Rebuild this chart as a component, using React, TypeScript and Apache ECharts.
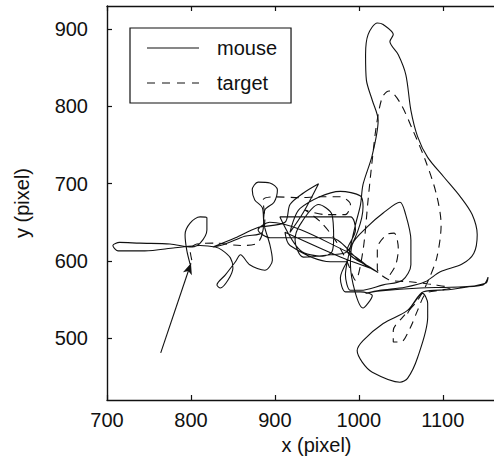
import React, { useEffect, useRef } from "react";
import * as echarts from "echarts";

const xTicks = [700, 800, 900, 1000, 1100];
const yTicks = [500, 600, 700, 800, 900];
const seriesNames = ["mouse", "target"];

const mouseX = [
  799, 795, 793, 799, 811, 819, 819, 811, 801, 775, 739, 715, 707, 713, 745, 781, 811, 829, 837, 847,
  850, 844, 835, 831, 841, 853, 859, 870, 888, 897, 894, 887, 885, 876, 873, 880, 894, 903, 899, 888,
  885, 864, 841, 826, 853, 879, 912, 918, 934, 952, 934, 918, 930, 978, 1002, 1005, 986, 966, 934, 924,
  930, 952, 968, 970, 968, 957, 930, 906, 990, 996, 986, 1016, 1023, 1002, 966, 894, 880, 894, 986, 1013,
  978, 912, 918, 966, 986, 978, 984, 1002, 1016, 1005, 990,
  992, 1010, 1029, 1049, 1055, 1062, 1062, 1052, 1029, 1002, 990, 984, 988, 996, 1002, 1005, 1016, 1023, 1016,
  1009, 1008, 1011, 1022, 1029, 1041, 1037, 1047, 1056, 1062, 1070, 1082, 1101, 1121, 1135, 1141, 1137, 1123, 1097, 1079,
  1055, 1025, 1008, 1025, 1073, 1109, 1148, 1154, 1151, 1109, 1077, 1058, 1029, 1005, 998, 1004, 1016, 1049, 1058, 1070,
  1082, 1082, 1076, 1064, 1058,
];
const mouseY = [
  596, 614, 634, 649, 657, 656, 640, 623, 618, 622, 623, 624, 620, 613, 613, 617, 620, 618, 614, 604,
  591, 575, 565, 569, 582, 599, 608, 595, 588, 601, 621, 647, 669, 679, 692, 702, 701, 692, 676, 666,
  637, 632, 622, 618, 630, 643, 650, 673, 688, 700, 663, 637, 668, 690, 684, 670, 612, 608, 605, 627,
  647, 673, 660, 630, 612, 606, 614, 657, 657, 640, 614, 590, 585, 599, 630, 630, 640, 650, 612, 591,
  605, 637, 620, 599, 599, 578, 560, 560, 555, 539, 595,
  621, 644, 662, 676, 663, 627, 595, 575, 569, 562, 562, 582, 608, 647, 673, 699, 737, 782, 808,
  834, 867, 893, 908, 906, 893, 884, 867, 841, 795, 761, 734, 709, 683, 660, 634, 610, 596, 586, 573,
  566, 562, 558, 561, 565, 566, 569, 579, 571, 563, 560, 536, 519, 497, 484, 469, 456, 443, 448, 475,
  527, 545, 558, 543, 532,
];

const targetX = [
  801, 799, 807, 829, 859, 879, 888, 886, 900, 930, 954, 978, 990, 984, 960, 936, 954, 972, 986, 996,
  1005, 1011, 1016, 1021,
  1028, 1036, 1049, 1064, 1079, 1092, 1098, 1093, 1082, 1070, 1052, 1041, 1041, 1050, 1061, 1070, 1080, 1097, 1109, 1091,
  1061, 1035, 1022, 1022, 1033, 1042, 1047, 1044, 1037,
];
const targetY = [
  601, 614, 622, 623, 620, 623, 653, 679, 683, 682, 683, 683, 673, 660, 660, 666, 651, 627, 599, 575,
  614, 679, 731, 776,
  812, 820, 805, 770, 731, 688, 647, 605, 573, 549, 527, 510, 495, 495, 513, 536, 558, 562, 565, 569,
  573, 576, 590, 616, 634, 636, 616, 595, 582,
];

const arrowFrom = [764, 481];
const arrowTo = [800, 597];

const FONT = "'Liberation Sans', Arial, Helvetica, sans-serif";
const INK = "#111";
const SOLID_ICON = "path://M0,0H52V1.2H0Z";
const DASH_ICON = "path://M0,0H8V1.2H0Z M15,0H23V1.2H15Z M30,0H38V1.2H30Z M45,0H52V1.2H45Z";

export default function App() {
  const ref = useRef<HTMLDivElement>(null);

  useEffect(() => {
    if (!ref.current) return;
    const chart = echarts.init(ref.current, undefined, { renderer: "svg" });
    const mouseData = mouseX.map((x, i) => [x, mouseY[i]]);
    const targetData = targetX.map((x, i) => [x, targetY[i]]);

    const axisLine = { show: true, lineStyle: { color: INK, width: 1.4 } };
    const tickStyle = { color: INK, width: 1.2 };
    const fmt = (v: number) => String(v);

    chart.setOption({
      animation: false,
      backgroundColor: "#fff",
      textStyle: { fontFamily: FONT },
      grid: { left: 107, top: 6, width: 387, height: 394, containLabel: false },
      legend: {
        data: [
          { name: seriesNames[0], icon: SOLID_ICON },
          { name: seriesNames[1], icon: DASH_ICON },
        ],
        orient: "vertical",
        left: 130,
        top: 28,
        itemWidth: 52,
        itemHeight: 14,
        itemGap: 15,
        padding: [10, 14, 10, 17],
        borderColor: INK,
        borderWidth: 1.2,
        backgroundColor: "#fff",
        textStyle: { fontSize: 20, color: INK, fontFamily: FONT, lineHeight: 20, padding: [0, 0, 0, 13] },
      },
      xAxis: [
        {
          type: "value",
          min: 700,
          max: 1161,
          position: "bottom",
          axisLine,
          axisTick: { show: true, inside: true, length: 5, lineStyle: tickStyle, customValues: xTicks },
          axisLabel: { customValues: xTicks, formatter: fmt, fontSize: 20, color: INK, margin: 10, fontFamily: FONT },
          splitLine: { show: false },
          name: "x (pixel)",
          nameLocation: "middle",
          nameGap: 34,
          nameTextStyle: { fontSize: 20, color: INK, fontFamily: FONT, padding: [0, 0, 0, 32] },
        },
        {
          type: "value",
          min: 700,
          max: 1161,
          position: "top",
          axisLine,
          axisTick: { show: true, inside: true, length: 5, lineStyle: tickStyle, customValues: xTicks },
          axisLabel: { show: false },
          splitLine: { show: false },
        },
      ],
      yAxis: [
        {
          type: "value",
          min: 420,
          max: 930,
          position: "left",
          axisLine,
          axisTick: { show: true, inside: true, length: 5, lineStyle: tickStyle, customValues: yTicks },
          axisLabel: { customValues: yTicks, formatter: fmt, fontSize: 20, color: INK, margin: 19, fontFamily: FONT },
          splitLine: { show: false },
          name: "y (pixel)",
          nameLocation: "middle",
          nameGap: 75,
          nameRotate: 90,
          nameTextStyle: { fontSize: 20, color: INK, fontFamily: FONT },
        },
      ],
      series: [
        {
          name: seriesNames[0],
          type: "line",
          data: mouseData,
          showSymbol: false,
          symbol: "none",
          smooth: 0.3,
          lineStyle: { color: INK, width: 1.1, type: "solid" },
          itemStyle: { color: INK },
          markLine: {
            silent: true,
            symbol: ["none", "arrow"],
            symbolSize: [7, 11],
            label: { show: false },
            lineStyle: { color: INK, width: 1.1, type: "solid" },
            data: [[{ coord: arrowFrom }, { coord: arrowTo }]],
          },
        },
        {
          name: seriesNames[1],
          type: "line",
          data: targetData,
          showSymbol: false,
          symbol: "none",
          smooth: 0.3,
          lineStyle: { color: INK, width: 1.1, type: [8, 6] },
          itemStyle: { color: INK },
        },
      ],
    });
    return () => chart.dispose();
  }, []);

  return (
    <div
      ref={ref}
      style={{ position: "fixed", left: 0, top: 0, width: 494, height: 460, background: "#fff" }}
    />
  );
}
